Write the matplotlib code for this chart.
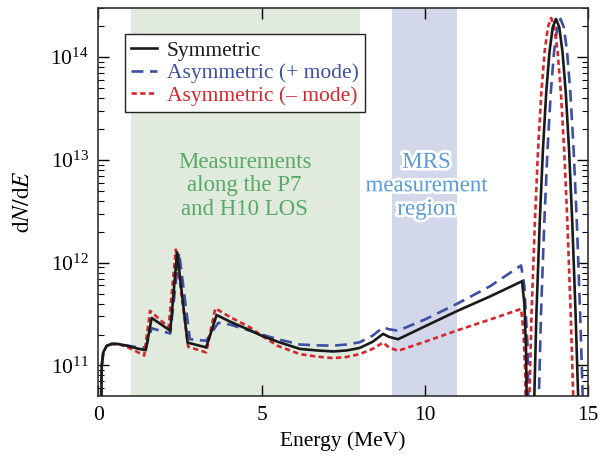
import numpy as np
import matplotlib
matplotlib.use('Agg')
import matplotlib.pyplot as plt
import matplotlib.patheffects as pe

plt.rcParams['font.family'] = ['Liberation Serif', 'DejaVu Serif']
plt.rcParams['mathtext.fontset'] = 'stix'

# Energy (MeV) and dN/dE

sym_E = [0.08, 0.10, 0.15, 0.25, 0.40, 0.60, 0.90, 1.20, 1.45, 1.63, 2.20, 2.41, 2.73, 3.30, 3.62,
         4.00, 4.64, 5.00, 5.50, 6.17, 6.70, 7.20, 7.60, 8.00, 8.40, 8.72, 8.90, 9.18, 10.0, 11.0,
         12.0, 12.98, 13.05, 13.10, 13.15,
         13.32, 13.42, 13.52, 13.62, 13.72, 13.82, 13.92, 14.02, 14.12, 14.22, 14.32, 14.42,
         14.52, 14.62, 14.72, 14.82]
sym_N = [3e10, 1.0e11, 1.35e11, 1.55e11, 1.62e11, 1.62e11, 1.55e11, 1.46e11, 1.41e11, 2.9e11,
         2.18e11, 1.26e12, 1.67e11, 1.5e11, 3.1e11,
         2.7e11, 2.2e11, 1.95e11, 1.7e11, 1.45e11, 1.4e11, 1.37e11, 1.4e11, 1.48e11, 1.7e11,
         2.03e11, 1.9e11, 1.8e11, 2.4e11, 3.4e11,
         4.7e11, 6.6e11, 4.0e11, 1.5e11, 1e10,
         1.8e10, 3.2e11, 2.4e12, 1.26e13, 4.5e13, 1.12e14, 1.95e14, 2.35e14, 1.95e14, 1.12e14,
         4.5e13, 1.26e13, 2.4e12, 3.2e11, 3.0e10, 2e9]

plus_E = [0.08, 0.10, 0.15, 0.25, 0.40, 0.60, 0.90, 1.20, 1.45, 1.63, 2.20, 2.47, 2.80, 3.30, 3.67,
          4.03, 4.64, 5.00, 5.50, 6.17, 6.70, 7.19, 7.60, 8.00, 8.40, 8.72, 8.90, 9.18, 10.0, 11.0,
          12.0, 12.95, 13.05, 13.15, 13.20,
          13.46, 13.56, 13.66, 13.76, 13.86, 13.96, 14.06, 14.16, 14.26, 14.36, 14.46, 14.56,
          14.66, 14.76, 14.86, 14.96]
plus_N = [3e10, 1.0e11, 1.35e11, 1.55e11, 1.62e11, 1.62e11, 1.56e11, 1.5e11, 1.5e11, 2.3e11,
          2.05e11, 1.26e12, 1.8e11, 1.74e11, 2.6e11,
          2.5e11, 2.18e11, 2.0e11, 1.8e11, 1.6e11, 1.57e11, 1.56e11, 1.6e11, 1.68e11, 1.95e11,
          2.35e11, 2.25e11, 2.18e11, 2.8e11, 4.0e11,
          5.9e11, 9.4e11, 6.0e11, 1.5e11, 1e10,
          1.8e10, 3.2e11, 2.4e12, 1.26e13, 4.5e13, 1.12e14, 1.95e14, 2.35e14, 1.95e14, 1.12e14,
          4.5e13, 1.26e13, 2.4e12, 3.2e11, 3.0e10, 2e9]

minus_E = [0.08, 0.10, 0.15, 0.25, 0.40, 0.60, 0.90, 1.20, 1.40, 1.58, 2.15, 2.37, 2.75, 3.30, 3.58,
           4.00, 4.64, 5.00, 5.50, 6.17, 6.70, 7.19, 7.60, 8.00, 8.40, 8.72, 8.90, 9.18, 10.0, 11.0,
           12.0, 12.95, 13.02, 13.08, 13.12,
           13.17, 13.27, 13.37, 13.47, 13.57, 13.67, 13.77, 13.87, 13.97, 14.07, 14.17, 14.27,
           14.37, 14.47, 14.57, 14.67]
minus_N = [3e10, 1.0e11, 1.35e11, 1.55e11, 1.62e11, 1.62e11, 1.5e11, 1.35e11, 1.25e11, 3.4e11,
           2.35e11, 1.34e12, 1.52e11, 1.34e11, 3.6e11,
           3.0e11, 2.35e11, 1.95e11, 1.55e11, 1.29e11, 1.22e11, 1.18e11, 1.21e11, 1.29e11, 1.45e11,
           1.67e11, 1.5e11, 1.39e11, 1.7e11, 2.2e11,
           2.8e11, 3.55e11, 2.2e11, 8e10, 1e10,
           1.8e10, 3.2e11, 2.4e12, 1.26e13, 4.5e13, 1.12e14, 1.95e14, 2.4e14, 1.95e14, 1.12e14,
           4.5e13, 1.26e13, 2.4e12, 3.2e11, 3.0e10, 2e9]

los_band = (1, 8)
mrs_band = (9, 11)

fig = plt.figure(figsize=(5.99, 4.61), dpi=100)
ax = fig.add_axes([0.1644, 0.141, 0.8172, 0.8416])

ax.axvspan(*los_band, color='#e0ebde', lw=0, zorder=0)
ax.axvspan(*mrs_band, color='#d3d7ea', lw=0, zorder=0)

ax.plot(sym_E, sym_N, color='#1a1a1a', lw=1.9, label='Symmetric', zorder=3)
ax.plot(plus_E, plus_N, color='#3d4fa3', lw=1.9, ls=(0, (4.5, 2.5)),
        label='Asymmetric (+ mode)', zorder=2)
ax.plot(minus_E, minus_N, color='#d7262d', lw=1.9, ls=(0, (2.0, 1.3)),
        label='Asymmetric (\u2013 mode)', zorder=2)

ax.set_yscale('log')
ax.set_xlim(0, 15)
ax.set_ylim(5.05e10, 3.0e14)
ax.set_xticks([0, 5, 10, 15])
ax.set_xlabel('Energy (MeV)', fontsize=15.5, labelpad=5)
ax.set_ylabel(r'$\mathrm{d}N/\mathrm{d}E$', fontsize=17, labelpad=12)

ax.tick_params(which='both', direction='in', top=True, right=True, labelsize=15.5)
ax.tick_params(which='major', length=8, width=1.0, pad=7)
ax.tick_params(which='minor', length=4, width=0.8)
ax.tick_params(axis='x', which='minor', bottom=False, top=False)
for s in ax.spines.values():
    s.set_linewidth(1.2)
    s.set_color('#333333')

ax.text(4.48, 5.6e12, 'Measurements\nalong the P7\nand H10 LOS', color='#5aa865',
        fontsize=16.5, ha='center', va='center', linespacing=1.15)
ax.text(10.05, 5.6e12, 'MRS\nmeasurement\nregion', color='#5b9bd8',
        fontsize=16.5, ha='center', va='center', linespacing=1.15,
        path_effects=[pe.withStroke(linewidth=4, foreground='white')])

leg = ax.legend(loc='upper left', bbox_to_anchor=(0.054, 0.933), borderaxespad=0,
                fancybox=False, framealpha=1, edgecolor='#222222', fontsize=15.5,
                handlelength=1.2, handletextpad=0.45, labelspacing=0.12, borderpad=0.3)
leg.get_frame().set_linewidth(1.0)
for t, c in zip(leg.get_texts(), ['#1a1a1a', '#3d4fa3', '#d7262d']):
    t.set_color(c)

fig.savefig('out.png', dpi=100)
